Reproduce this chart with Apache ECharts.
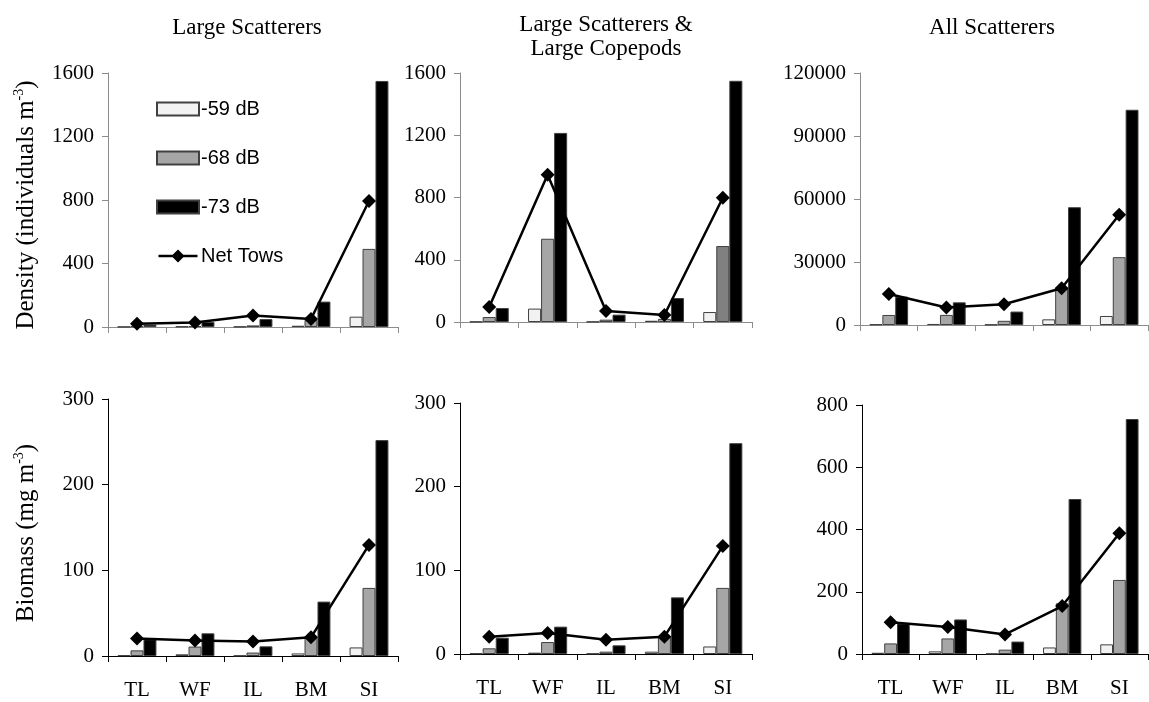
<!DOCTYPE html>
<html>
<head>
<meta charset="utf-8">
<script src="https://cdn.jsdelivr.net/npm/echarts@6/dist/echarts.min.js"></script>
<style>
html,body{margin:0;padding:0;background:#fff;}
#chart{width:1149px;height:702px;}
</style>
</head>
<body>
<div id="chart"></div>
<script>
// ---- data ----
var categories = ['TL', 'WF', 'IL', 'BM', 'SI'];
var seriesNames = ['-59 dB', '-68 dB', '-73 dB', 'Net Tows'];
var panelTitles = ['Large Scatterers', 'Large Scatterers &\nLarge Copepods', 'All Scatterers'];

// Density, Large Scatterers
var densLS_59 = [1, 3, 2, 8, 65];
var densLS_68 = [4, 6, 10, 45, 492];
var densLS_73 = [15, 32, 50, 160, 1550];
var densLS_net = [21, 29, 73, 50, 794];

// Density, Large Scatterers & Large Copepods
var densLC_59 = [2, 86, 2, 8, 64];
var densLC_68 = [32, 535, 15, 20, 488];
var densLC_73 = [90, 1215, 47, 154, 1550];
var densLC_net = [96, 946, 71, 45, 798];

// Density, All Scatterers
var densAll_59 = [300, 500, 200, 2700, 4300];
var densAll_68 = [4770, 4800, 2000, 17800, 32300];
var densAll_73 = [13500, 10800, 6400, 56100, 102500];
var densAll_net = [14800, 8300, 9900, 17500, 52500];

// Biomass, Large Scatterers
var bioLS_59 = [0.8, 2, 0.5, 3, 10];
var bioLS_68 = [6.6, 11, 4, 22, 79.5];
var bioLS_73 = [19.5, 26.5, 11.3, 63.5, 252];
var bioLS_net = [20.3, 18, 17, 21.8, 129.7];

// Biomass, Large Scatterers & Large Copepods
var bioLC_59 = [0.8, 1.6, 0.5, 2.8, 9];
var bioLC_68 = [6.8, 14.3, 2.8, 21, 79];
var bioLC_73 = [19.5, 32.7, 10.4, 67.7, 252];
var bioLC_net = [20.7, 25, 17, 20.7, 129];

// Biomass, All Scatterers
var bioAll_59 = [4, 8.5, 1, 21, 31];
var bioAll_68 = [34, 50, 14, 163, 238];
var bioAll_73 = [98, 111, 40, 498, 755];
var bioAll_net = [102, 87, 63, 154, 388];

var yMax = [1600, 1600, 120000, 300, 300, 800];
var yInterval = [400, 400, 30000, 100, 100, 200];

var panels = [
  [densLS_59, densLS_68, densLS_73, densLS_net],
  [densLC_59, densLC_68, densLC_73, densLC_net],
  [densAll_59, densAll_68, densAll_73, densAll_net],
  [bioLS_59, bioLS_68, bioLS_73, bioLS_net],
  [bioLC_59, bioLC_68, bioLC_73, bioLC_net],
  [bioAll_59, bioAll_68, bioAll_73, bioAll_net]
];

// ---- layout / style ----
var grids = [
  {left: 108, width: 290, top: 73, height: 254},
  {left: 460, width: 292, top: 73, height: 249},
  {left: 860, width: 288, top: 73, height: 252},
  {left: 108, width: 290, top: 399, height: 257},
  {left: 460, width: 292, top: 403, height: 251},
  {left: 862, width: 286, top: 405, height: 249}
];

var serif = '"Liberation Serif", "Times New Roman", serif';
var barFill = ['#f2f2f2', '#a6a6a6', '#000000'];

var chart = echarts.init(document.getElementById('chart'), null, {renderer: 'canvas'});

var xAxes = [], yAxes = [], series = [];
for (var i = 0; i < 6; i++) {
  var isTopRow = i < 3;
  var axColor = isTopRow ? '#8c8c8c' : '#000000';
  xAxes.push({
    type: 'category', gridIndex: i, data: categories,
    axisLine: {lineStyle: {color: axColor, width: 1}},
    axisTick: {show: true, alignWithLabel: false, interval: 0, length: 6, lineStyle: {color: axColor}},
    axisLabel: {show: !isTopRow, interval: 0, margin: 24, color: '#000', fontFamily: serif, fontSize: 21},
    splitLine: {show: false}
  });
  yAxes.push({
    type: 'value', gridIndex: i, min: 0, max: yMax[i], interval: yInterval[i],
    axisLine: {show: true, lineStyle: {color: axColor, width: 1}},
    axisTick: {show: true, length: 6, lineStyle: {color: axColor}},
    axisLabel: {margin: 14, color: '#000', fontFamily: serif, fontSize: 21,
      formatter: function (v) { return String(v); }},
    splitLine: {show: false}
  });
  for (var s = 0; s < 3; s++) {
    var d = panels[i][s].slice();
    if (i === 1 && s === 1) {
      d = d.map(function (v, k) {
        return k === 4 ? {value: v, itemStyle: {color: '#808080'}} : v;
      });
    }
    series.push({
      type: 'bar', name: seriesNames[s], xAxisIndex: i, yAxisIndex: i,
      data: d, barGap: '0%', barCategoryGap: '33%',
      itemStyle: {color: barFill[s], borderColor: '#404040', borderWidth: 1},
      emphasis: {disabled: true}, z: 2
    });
  }
  series.push({
    type: 'line', name: seriesNames[3], xAxisIndex: i, yAxisIndex: i,
    data: panels[i][3], symbol: 'diamond', symbolSize: 14,
    lineStyle: {color: '#000', width: 2.5},
    itemStyle: {color: '#000'}, z: 5, animation: false
  });
}

var titleFont = '23px ' + serif;
var graphics = [
  {type: 'text', x: 247, y: 28, style: {text: panelTitles[0], font: titleFont, fill: '#000', textAlign: 'center', textVerticalAlign: 'middle'}},
  {type: 'text', x: 606, y: 37, style: {text: panelTitles[1], font: titleFont, fill: '#000', textAlign: 'center', textVerticalAlign: 'middle', lineHeight: 24}},
  {type: 'text', x: 992, y: 28, style: {text: panelTitles[2], font: titleFont, fill: '#000', textAlign: 'center', textVerticalAlign: 'middle'}},
  {type: 'text', x: 26, y: 205, rotation: Math.PI / 2,
    style: {text: '{a|Density (individuals m}{s|-3}{a|)}', textAlign: 'center', textVerticalAlign: 'middle',
      rich: {a: {fontFamily: serif, fontSize: 25, lineHeight: 28, fill: '#000'},
             s: {fontFamily: serif, fontSize: 14, lineHeight: 15, verticalAlign: 'top', fill: '#000'}}}},
  {type: 'text', x: 26, y: 533, rotation: Math.PI / 2,
    style: {text: '{a|Biomass (mg m}{s|-3}{a|)}', textAlign: 'center', textVerticalAlign: 'middle',
      rich: {a: {fontFamily: serif, fontSize: 25, lineHeight: 28, fill: '#000'},
             s: {fontFamily: serif, fontSize: 14, lineHeight: 15, verticalAlign: 'top', fill: '#000'}}}}
];

var lineIcon = 'path://M0,5.75L15.25,5.75L21,0L26.75,5.75L42,5.75L42,8.25L26.75,8.25L21,14L15.25,8.25L0,8.25Z';

chart.setOption({
  animation: false,
  backgroundColor: '#ffffff',
  grid: grids,
  xAxis: xAxes,
  yAxis: yAxes,
  series: series,
  legend: {
    data: [
      {name: seriesNames[0], icon: 'rect'},
      {name: seriesNames[1], icon: 'rect'},
      {name: seriesNames[2], icon: 'rect'},
      {name: seriesNames[3], icon: lineIcon}
    ],
    orient: 'vertical', left: 151, top: 94,
    itemWidth: 42, itemHeight: 13, itemGap: 29, selectedMode: false,
    textStyle: {fontFamily: '"Liberation Sans", Arial, sans-serif', fontSize: 20, color: '#000', padding: [0, 0, 0, -3]}
  },
  graphic: graphics
});
</script>
</body>
</html>
